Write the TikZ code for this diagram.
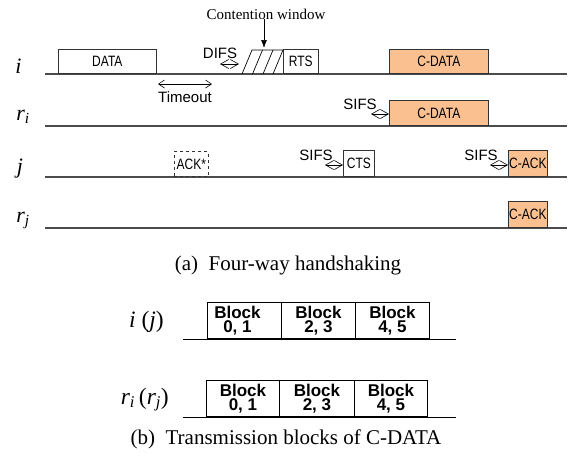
\documentclass[tikz,border=0pt]{standalone}
\usepackage{fontspec}
\setmainfont{Liberation Serif}
\newfontfamily\lsans[FakeStretch=0.8]{Liberation Sans}
\newfontfamily\nsans{Liberation Sans}
\usetikzlibrary{arrows.meta}
\definecolor{cdorange}{RGB}{250,192,144}
\begin{document}
\begin{tikzpicture}[x=1pt,y=-1pt,
  tl/.style={draw=black!70, line width=1.3pt},
  lab/.style={font=\fontsize{22}{22}\selectfont\itshape, anchor=base, inner sep=0pt},
  blab/.style={font=\fontsize{23.5}{23.5}\selectfont\itshape, anchor=base east, inner sep=0pt},
  pbox/.style={draw=black!80, line width=0.7pt, inner sep=0pt, anchor=south west, font=\lsans\fontsize{15}{15}\selectfont},
  obox/.style={pbox, fill=cdorange},
  small/.style={font=\nsans\fontsize{15}{15}\selectfont, inner sep=0pt},
  gap/.style={{Straight Barb[length=8pt,width=9pt]}-{Straight Barb[length=8pt,width=9pt]}, line width=0.6pt},
  gapl/.style={{Straight Barb[length=6pt,width=8pt]}-{Straight Barb[length=6pt,width=8pt]}, line width=0.6pt},
  blk/.style={draw, line width=0.9pt, inner sep=0pt, anchor=south west, minimum height=36pt, align=center, font=\nsans\bfseries\fontsize{17}{14.5}\selectfont},
  captext/.style={font=\fontsize{21}{21}\selectfont, inner sep=0pt}
]
\useasboundingbox (0,0) rectangle (569,459);

% timelines (a)
\foreach \n/\y in {i/74, ri/126, j/177, rj/228}{
  \coordinate (\n0) at (45,\y);
  \coordinate (\n1) at (567,\y);
}
\draw[tl] (i0) -- (i1);
\draw[tl] (ri0) -- (ri1);
\draw[tl] (j0) -- (j1);
\draw[tl] (rj0) -- (rj1);

% labels
\node[lab] (li) at (18.5,73) {i};
\node[lab] (lri) at (23,120) {r\textsubscript{\itshape i}};
\node[lab] (lj) at (20,173) {j};
\node[lab] (lrj) at (23,222) {r\textsubscript{\itshape j}};

% boxes on i
\node[pbox, minimum width=98pt, minimum height=24pt] (data) at (58,74) {DATA};
\node[pbox, minimum width=35pt, minimum height=24pt] (rts) at (283,74) {RTS};
\node[obox, minimum width=99pt, minimum height=24pt] (cdi) at (389,74) {C-DATA};
% boxes on r_i
\node[obox, minimum width=99pt, minimum height=25pt] (cdri) at (389,126) {C-DATA};
% boxes on j
\node[pbox, dashed, minimum width=34pt, minimum height=25pt] (ack) at (174,177) {ACK*};
\node[pbox, minimum width=31pt, minimum height=26pt] (cts) at (343,177) {CTS};
\node[obox, minimum width=39pt, minimum height=26pt] (cackj) at (508,177) {C-ACK};
% box on r_j
\node[obox, minimum width=39pt, minimum height=26pt] (cackrj) at (508,228) {C-ACK};

% contention window hatch
\draw[line width=0.7pt] (242,74) -- (252,50) -- (283,50);
\draw[line width=0.7pt] (252.5,74) -- (262.5,50);
\draw[line width=0.7pt] (263,74) -- (273,50);
\draw[line width=0.7pt] (273,74) -- (283,50);

\node[font=\fontsize{15}{15}\selectfont, inner sep=0pt] (cw) at (266,14) {Contention window};
\coordinate (cwtip) at (264,48);
\draw[line width=0.7pt, -{Latex[length=8pt,width=6pt]}] (cw.south -| cwtip) -- (cwtip);

% DIFS
\node[small] (difs) at (220,53) {DIFS};
\coordinate (d0) at (220,64);
\coordinate (d1) at (239,64);
\draw[gap] (d0) -- (d1);

% Timeout
\node[small] (tmo) at (185,97) {Timeout};
\coordinate (t0) at (158,84);
\coordinate (t1) at (212,84);
\draw[gapl] (t0) -- (t1);

% SIFS
\node[small] (s1) at (360,104) {SIFS};
\coordinate (s1a) at (371,114);
\draw[gap] (s1a) -- (s1a -| cdri.west);
\node[small] (s2) at (316,155) {SIFS};
\coordinate (s2a) at (325,165);
\draw[gap] (s2a) -- (s2a -| cts.west);
\node[small] (s3) at (481,155) {SIFS};
\coordinate (s3a) at (490,165);
\draw[gap] (s3a) -- (s3a -| cackj.west);

\node[captext] (capa) at (288,265) {(a)\ \ Four-way handshaking};

% part (b)
\coordinate (b10) at (183,339);
\coordinate (b11) at (456,339);
\coordinate (b20) at (183,417);
\coordinate (b21) at (456,417);
\draw[line width=1pt] (b10) -- (b11);
\draw[line width=1pt] (b20) -- (b21);

\node[blab] (lb1) at (164,327) {i\/\ \upshape(\itshape j\/\upshape)};
\node[blab] (lb2) at (169,404) {r\textsubscript{\itshape i}\,\upshape(\itshape r\textsubscript{\itshape j}\upshape)};

\node[blk, minimum width=74pt] (a1) at (207,339) {\hspace*{-14pt}Block\\\hspace*{-14pt}0, 1};
\node[blk, minimum width=74pt] (a2) at (281,339) {Block\\2, 3};
\node[blk, minimum width=74pt] (a3) at (355,339) {Block\\4, 5};
\node[blk, minimum width=73pt] (c1) at (206,417) {Block\\0, 1};
\node[blk, minimum width=75pt] (c2) at (279,417) {Block\\2, 3};
\node[blk, minimum width=73pt] (c3) at (354,417) {Block\\4, 5};

\node[captext] (capb) at (286,439) {(b)\ \ Transmission blocks of C-DATA};
\end{tikzpicture}
\end{document}
